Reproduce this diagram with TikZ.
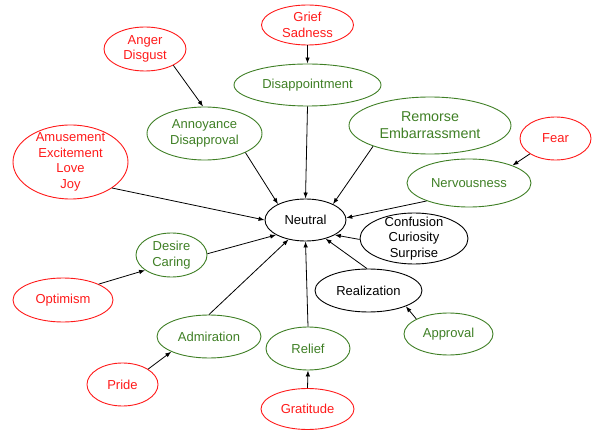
\documentclass[tikz,border=0pt]{standalone}
\usepackage{fontspec}
\setmainfont{Liberation Sans}
\usetikzlibrary{shapes.geometric,arrows.meta}
\definecolor{emred}{HTML}{FF1A1A}
\definecolor{emgreen}{HTML}{3F7F25}
\begin{document}
\begin{tikzpicture}[x=1pt,y=-1pt,
  emo/.style={ellipse, draw, line width=0.9pt, inner xsep=0pt, inner ysep=-12pt, align=center,
    font=\fontsize{13}{15.7}\selectfont},
  redn/.style={emo, draw=emred, text=emred},
  greenn/.style={emo, draw=emgreen, text=emgreen},
  blackn/.style={emo, draw=black, text=black},
  sz/.style 2 args={minimum width=#1pt, minimum height=#2pt},
  arr/.style={-{Latex[length=6pt,width=4.5pt]}, line width=0.8pt, black}
]
\useasboundingbox (0,0) rectangle (594,430);
% nodes
\node[blackn, sz={81}{42}] (neutral) at (305.5,220) {Neutral};
\node[redn, sz={92}{40}] (grief) at (307.5,25) {Grief\\Sadness};
\node[redn, sz={82}{44}] (anger) at (145,49) {Anger\\Disgust};
\node[greenn, sz={147}{42}] (disap) at (307.5,85) {Disappointment};
\node[greenn, sz={115}{53}] (annoy) at (204.5,133.5) {Annoyance\\Disapproval};
\node[redn, sz={115}{74}] (amuse) at (70.5,162) {Amusement\\Excitement\\Love\\Joy};
\node[greenn, sz={162}{57}, font=\fontsize{14.3}{17.3}\selectfont] (remorse) at (430,125.5) {Remorse\\Embarrassment};
\node[redn, sz={71}{43}] (fear) at (555.5,138.5) {Fear};
\node[greenn, sz={124}{48}] (nerv) at (469,183) {Nervousness};
\node[blackn, sz={108}{51}] (conf) at (414,238.5) {Confusion\\Curiosity\\Surprise};
\node[blackn, sz={107}{43}] (real) at (368.5,290.5) {Realization};
\node[greenn, sz={89}{42}] (approv) at (448.5,334) {Approval};
\node[greenn, sz={84}{43}] (relief) at (308,348.5) {Relief};
\node[redn, sz={93}{41}] (grat) at (307.5,409) {Gratitude};
\node[greenn, sz={71}{44}] (desire) at (171.5,255) {Desire\\Caring};
\node[redn, sz={100}{44}] (optim) at (63,300) {Optimism};
\node[greenn, sz={104}{43}] (admir) at (209,336.5) {Admiration};
\node[redn, sz={71}{43}] (pride) at (122.5,384.5) {Pride};
% connectors
\draw[arr] (anger.-30) -- (annoy.93);
\draw[arr] (grief.south) -- (disap.north);
\draw[arr] (fear.211) -- (nerv.22);
\draw[arr] (optim.24) -- (desire.210);
\draw[arr] (pride.31) -- (admir.202);
\draw[arr] (grat.north) -- (relief.south);
\draw[arr] (approv.155) -- (real.-23);
\draw[arr] (amuse.-32.5) -- (neutral.180);
\draw[arr] (annoy.-25) -- (neutral.150);
\draw[arr] (disap.south) -- (neutral.north);
\draw[arr] (remorse.200) -- (neutral.30);
\draw[arr] (nerv.203) -- (neutral.3);
\draw[arr] (conf.181) -- (neutral.-27);
\draw[arr] (real.94) -- (neutral.-43);
\draw[arr] (relief.north) -- (neutral.south);
\draw[arr] (admir.90) -- (neutral.229);
\draw[arr] (desire.2) -- (neutral.207.5);
\end{tikzpicture}
\end{document}
